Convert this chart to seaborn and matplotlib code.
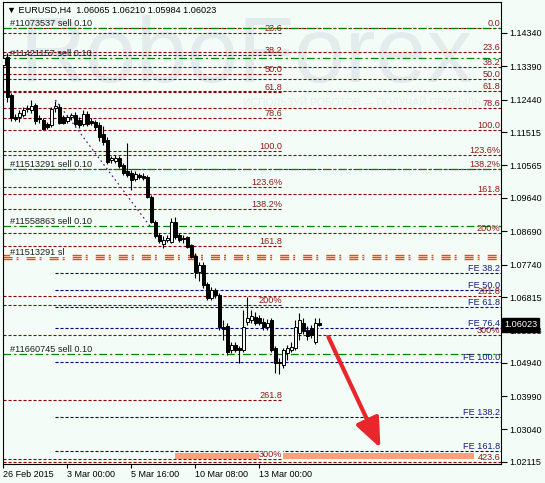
import numpy as np
import seaborn as sns
import matplotlib
matplotlib.use('Agg')
import matplotlib.pyplot as plt
from matplotlib import transforms

# ---- chart values ----
header = "\u25BC EURUSD,H4  1.06065 1.06210 1.05984 1.06023"
date_ticks = [0, 16, 32, 48, 64]
date_labels = ["26 Feb 2015", "3 Mar 00:00", "5 Mar 16:00", "10 Mar 08:00", "13 Mar 00:00"]
price_ticks = [1.14340, 1.13390, 1.12440, 1.11515, 1.10565, 1.09640, 1.08690,
               1.07740, 1.06815, 1.05863, 1.04940, 1.03990, 1.03040, 1.02115]
price_labels = ["1.14340", "1.13390", "1.12440", "1.11515", "1.10565", "1.09640", "1.08690",
                "1.07740", "1.06815", "1.05863", "1.04940", "1.03990", "1.03040", "1.02115"]
last_price = 1.06023

opens = [1.1343, 1.1366, 1.1257, 1.1195, 1.1195, 1.1200, 1.1217, 1.1215, 1.1229, 1.1192,
         1.1186, 1.1175, 1.1172, 1.1220, 1.1223, 1.1195, 1.1183, 1.1195, 1.1200, 1.1186,
         1.1175, 1.1203, 1.1183, 1.1180, 1.1172, 1.1146, 1.1129, 1.1072, 1.1069, 1.1078,
         1.1058, 1.1041, 1.1035, 1.1018, 1.1029, 1.1026, 1.1024, 1.0967, 1.0895, 1.0858,
         1.0833, 1.0844, 1.0838, 1.0895, 1.0858, 1.0850, 1.0853, 1.0830, 1.0798, 1.0753,
         1.0773, 1.0719, 1.0679, 1.0702, 1.0687, 1.0596, 1.0599, 1.0531, 1.0545, 1.0536,
         1.0531, 1.0610, 1.0616, 1.0625, 1.0622, 1.0610, 1.0596, 1.0616, 1.0536, 1.0496,
         1.0488, 1.0522, 1.0531, 1.0536, 1.0579, 1.0607, 1.0588, 1.0593, 1.0553, 1.06065]
highs = [1.1371, 1.1377, 1.1263, 1.1203, 1.1215, 1.1223, 1.1229, 1.1243, 1.1234, 1.1200,
         1.1192, 1.1180, 1.1223, 1.1240, 1.1232, 1.1200, 1.1200, 1.1206, 1.1209, 1.1195,
         1.1215, 1.1212, 1.1192, 1.1186, 1.1180, 1.1169, 1.1138, 1.1083, 1.1086, 1.1083,
         1.1063, 1.1120, 1.1044, 1.1041, 1.1035, 1.1035, 1.1029, 1.0972, 1.0901, 1.0864,
         1.0855, 1.0858, 1.0907, 1.0910, 1.0864, 1.0858, 1.0855, 1.0833, 1.0807, 1.0781,
         1.0781, 1.0724, 1.0710, 1.0707, 1.0693, 1.0616, 1.0607, 1.0553, 1.0553, 1.0542,
         1.0645, 1.0682, 1.0645, 1.0639, 1.0630, 1.0622, 1.0619, 1.0622, 1.0542, 1.0508,
         1.0536, 1.0545, 1.0553, 1.0616, 1.0636, 1.0622, 1.0599, 1.0602, 1.0622, 1.06210]
lows = [1.1334, 1.1237, 1.1183, 1.1183, 1.1180, 1.1195, 1.1209, 1.1206, 1.1175, 1.1177,
        1.1158, 1.1160, 1.1166, 1.1209, 1.1175, 1.1175, 1.1177, 1.1186, 1.1169, 1.1163,
        1.1169, 1.1169, 1.1172, 1.1158, 1.1126, 1.1115, 1.1061, 1.1063, 1.1063, 1.1049,
        1.1029, 1.1024, 1.0987, 1.1012, 1.1018, 1.1015, 1.0964, 1.0892, 1.0850, 1.0835,
        1.0821, 1.0838, 1.0835, 1.0847, 1.0838, 1.0835, 1.0821, 1.0793, 1.0736, 1.0727,
        1.0707, 1.0673, 1.0673, 1.0679, 1.0588, 1.0559, 1.0516, 1.0522, 1.0525, 1.0493,
        1.0525, 1.0602, 1.0607, 1.0602, 1.0602, 1.0588, 1.0588, 1.0525, 1.0465, 1.0462,
        1.0479, 1.0502, 1.0525, 1.0531, 1.0559, 1.0576, 1.0559, 1.0565, 1.0548, 1.05984]
closes = [1.1363, 1.1252, 1.1192, 1.1189, 1.1206, 1.1215, 1.1220, 1.1226, 1.1183, 1.1189,
          1.1160, 1.1166, 1.1217, 1.1226, 1.1177, 1.1177, 1.1195, 1.1200, 1.1175, 1.1172,
          1.1203, 1.1175, 1.1177, 1.1166, 1.1138, 1.1123, 1.1066, 1.1078, 1.1078, 1.1055,
          1.1035, 1.1029, 1.1015, 1.1032, 1.1024, 1.1021, 1.0967, 1.0895, 1.0855, 1.0841,
          1.0844, 1.0850, 1.0895, 1.0853, 1.0844, 1.0847, 1.0824, 1.0796, 1.0753, 1.0773,
          1.0716, 1.0679, 1.0702, 1.0687, 1.0596, 1.0590, 1.0525, 1.0545, 1.0531, 1.0531,
          1.0596, 1.0622, 1.0627, 1.0607, 1.0607, 1.0596, 1.0607, 1.0531, 1.0493, 1.0493,
          1.0531, 1.0536, 1.0539, 1.0596, 1.0616, 1.0585, 1.0570, 1.0573, 1.0607, 1.06023]

# fibo retracement drawn across the whole chart (0% and 100% prices)
fib_a_range = (1.14482, 1.11565)
fib_a_levels = [0.0, 23.6, 38.2, 50.0, 61.8, 78.6, 100.0, 123.6, 138.2, 161.8, 200.0, 261.8, 300.0, 423.6]
fib_a_labels = ["0.0", "23.6", "38.2", "50.0", "61.8", "78.6", "100.0", "123.6%", "138.2%",
                "161.8", "200%", "261.8", "300%", "423.6"]
# second fibo retracement, ends in the middle of the chart
fib_b_range = (1.15380, 1.10990)
fib_b_levels = [23.6, 38.2, 50.0, 61.8, 78.6, 100.0, 123.6, 138.2, 161.8, 200.0, 261.8, 300.0]
fib_b_labels = ["23.6", "38.2", "50.0", "61.8", "78.6", "100.0", "123.6%", "138.2%",
                "161.8", "200%", "261.8", "300%"]
# fibo expansion
fe_range = (1.09067, 1.04963)
fe_levels = [38.2, 50.0, 61.8, 76.4, 100.0, 138.2, 161.8]
fe_labels = ["FE 38.2", "FE 50.0", "FE 61.8", "FE 76.4", "FE 100.0", "FE 138.2", "FE 161.8"]

orders = ["#11073537 sell 0.10", "#11421157 sell 0.10", "#11513291 sell 0.10",
          "#11558863 sell 0.10", "#11660745 sell 0.10"]
order_prices = [1.14482, 1.13627, 1.10464, 1.08839, 1.05191]
stop_label = "#11513291 sl"
stop_price = 1.07955

trend_bars = [13, 37]
trend_prices = [1.1243, 1.0878]
target_bars = [43, 117.75]
target_prices = (1.02198, 1.02370)
arrow_bars = (81.25, 94.25)
arrow_prices = (1.05676, 1.02512)

watermark = "RoboForex"
watermark_sub = "ИСПОЛЬЗУЙ РОБОТОВ — ПОЛУЧАЙ ПРИБЫЛЬ"

# ---- drawing ----
bg = '#F4FCF7'
sns.set_theme(style='white', rc={'axes.facecolor': bg, 'figure.facecolor': bg,
                                 'axes.edgecolor': 'black', 'lines.scale_dashes': False})
plt.rcParams['font.family'] = ['Liberation Sans', 'DejaVu Sans']

fig = plt.figure(figsize=(5.45, 4.83), dpi=100)
ax = fig.add_axes([3 / 545, 19 / 483, 498 / 545, 462 / 483])
x_left, x_right = -0.1, 124.4
ax.set_xlim(x_left, x_right)
ax.set_ylim(1.02056, 1.15223)

ax.text(0.488, 0.879, watermark, transform=ax.transAxes, ha='center', va='center',
        fontsize=66, color='#E3ECEC', zorder=0.5)
ax.text(0.72, 0.782, watermark_sub, transform=ax.transAxes, ha='center', va='center',
        fontsize=7.5, color='#E6EEEE', zorder=0.5)

fib_red = '#8B0000'
fib_txt = '#8B1A1A'
fe_blue = '#1A1A80'

def level(rng, pct):
    return rng[0] + (rng[1] - rng[0]) * pct / 100.0

b_end = 69.75
for pct, lab in zip(fib_b_levels, fib_b_labels):
    p = level(fib_b_range, pct)
    ax.plot([x_left, b_end], [p, p], color=fib_red, lw=0.8, dashes=(2.2, 1.4), zorder=2)
    box = dict(facecolor=bg, edgecolor='none', pad=0.2) if lab == "300%" else None
    ax.text(b_end, p, lab, ha='right', va='bottom', fontsize=6.6, color=fib_txt, zorder=5, bbox=box)

for pct, lab in zip(fib_a_levels, fib_a_labels):
    p = level(fib_a_range, pct)
    ax.plot([x_left, x_right], [p, p], color=fib_red, lw=0.8, dashes=(2.2, 1.4), zorder=2)
    ax.text(124.2, p, lab, ha='right', va='bottom', fontsize=6.6, color=fib_txt, zorder=5)

for pct, lab in zip(fe_levels, fe_labels):
    p = level(fe_range, pct)
    ax.plot([13, x_right], [p, p], color='#000080', lw=0.8, dashes=(2.2, 1.4), zorder=2)
    ax.text(124.2, p, lab, ha='right', va='bottom', fontsize=6.6, color=fe_blue, zorder=5)

for lab, p in zip(orders, order_prices):
    ax.plot([x_left, x_right], [p, p], color='#008000', lw=0.9, dashes=(5.5, 2.2, 1.6, 2.2), zorder=2.2)
    ax.text(1.75, p, lab, ha='left', va='bottom', fontsize=6.6, color='#1E1E1E', zorder=5)

# stop loss line: three orange stripes
for dy in (-1.6, 0, 1.6):
    tr = transforms.offset_copy(ax.transData, fig=fig, x=0, y=dy, units='points')
    ax.plot([x_left, x_right], [stop_price, stop_price], transform=tr, color='#FF4500',
            lw=1.0, dashes=(6.5, 2.9, 1.4, 5.8), zorder=2.3)
ax.text(1.75, stop_price, stop_label, ha='left', va='bottom', fontsize=6.6, color='#1E1E1E', zorder=5,
        bbox=dict(facecolor=bg, edgecolor='none', pad=0.3))

sns.lineplot(x=trend_bars, y=trend_prices, ax=ax, color='#551A8B', lw=0.9,
             dashes=False, zorder=2.4)
ax.lines[-1].set_dashes((1.2, 2.2))

ax.fill_between(target_bars, target_prices[0], target_prices[1], color='#FFA07A', lw=0, zorder=1.5)

ax.annotate('', xy=(arrow_bars[1], arrow_prices[1]), xytext=(arrow_bars[0], arrow_prices[0]),
            arrowprops=dict(arrowstyle='-|>,head_length=1.8,head_width=0.75', color='#E8262B',
                            lw=3, mutation_scale=10, shrinkA=0, shrinkB=0), zorder=6)

# candles
idx = np.arange(len(opens))
o = np.array(opens)
c = np.array(closes)
ax.vlines(idx, lows, highs, color='black', lw=0.8, zorder=3)
body_lo = np.minimum(o, c)
body_h = np.abs(c - o)
face = ['black' if cc < oo else bg for oo, cc in zip(o, c)]
ax.bar(idx, body_h, bottom=body_lo, width=0.72, color=face, edgecolor='black',
       linewidth=0.7, zorder=3.5)

ax.text(0.008, 0.983, header, transform=ax.transAxes, ha='left', va='center',
        fontsize=6.6, color='black', zorder=6)

# axes
ax.yaxis.tick_right()
ax.set_yticks(price_ticks, price_labels)
ax.set_xticks(date_ticks, date_labels)
for t in ax.get_xticklabels():
    t.set_horizontalalignment('left')
ax.tick_params(axis='y', direction='out', length=4, width=0.8, pad=2, labelsize=6.5,
               colors='black', right=True)
ax.tick_params(axis='x', direction='out', length=3, width=0.8, pad=1.5, labelsize=6.5,
               colors='black', bottom=True)
for s in ax.spines.values():
    s.set_linewidth(0.8)
    s.set_color('black')
ax.grid(False)

blend = transforms.blended_transform_factory(ax.transAxes, ax.transData)
ax.text(1.006, last_price, "1.06023", transform=blend, ha='left', va='center', fontsize=6.6,
        color='white', zorder=7, clip_on=False,
        bbox=dict(facecolor='black', edgecolor='black', pad=1.6))

fig.savefig('out.png', dpi=100, facecolor=bg)
